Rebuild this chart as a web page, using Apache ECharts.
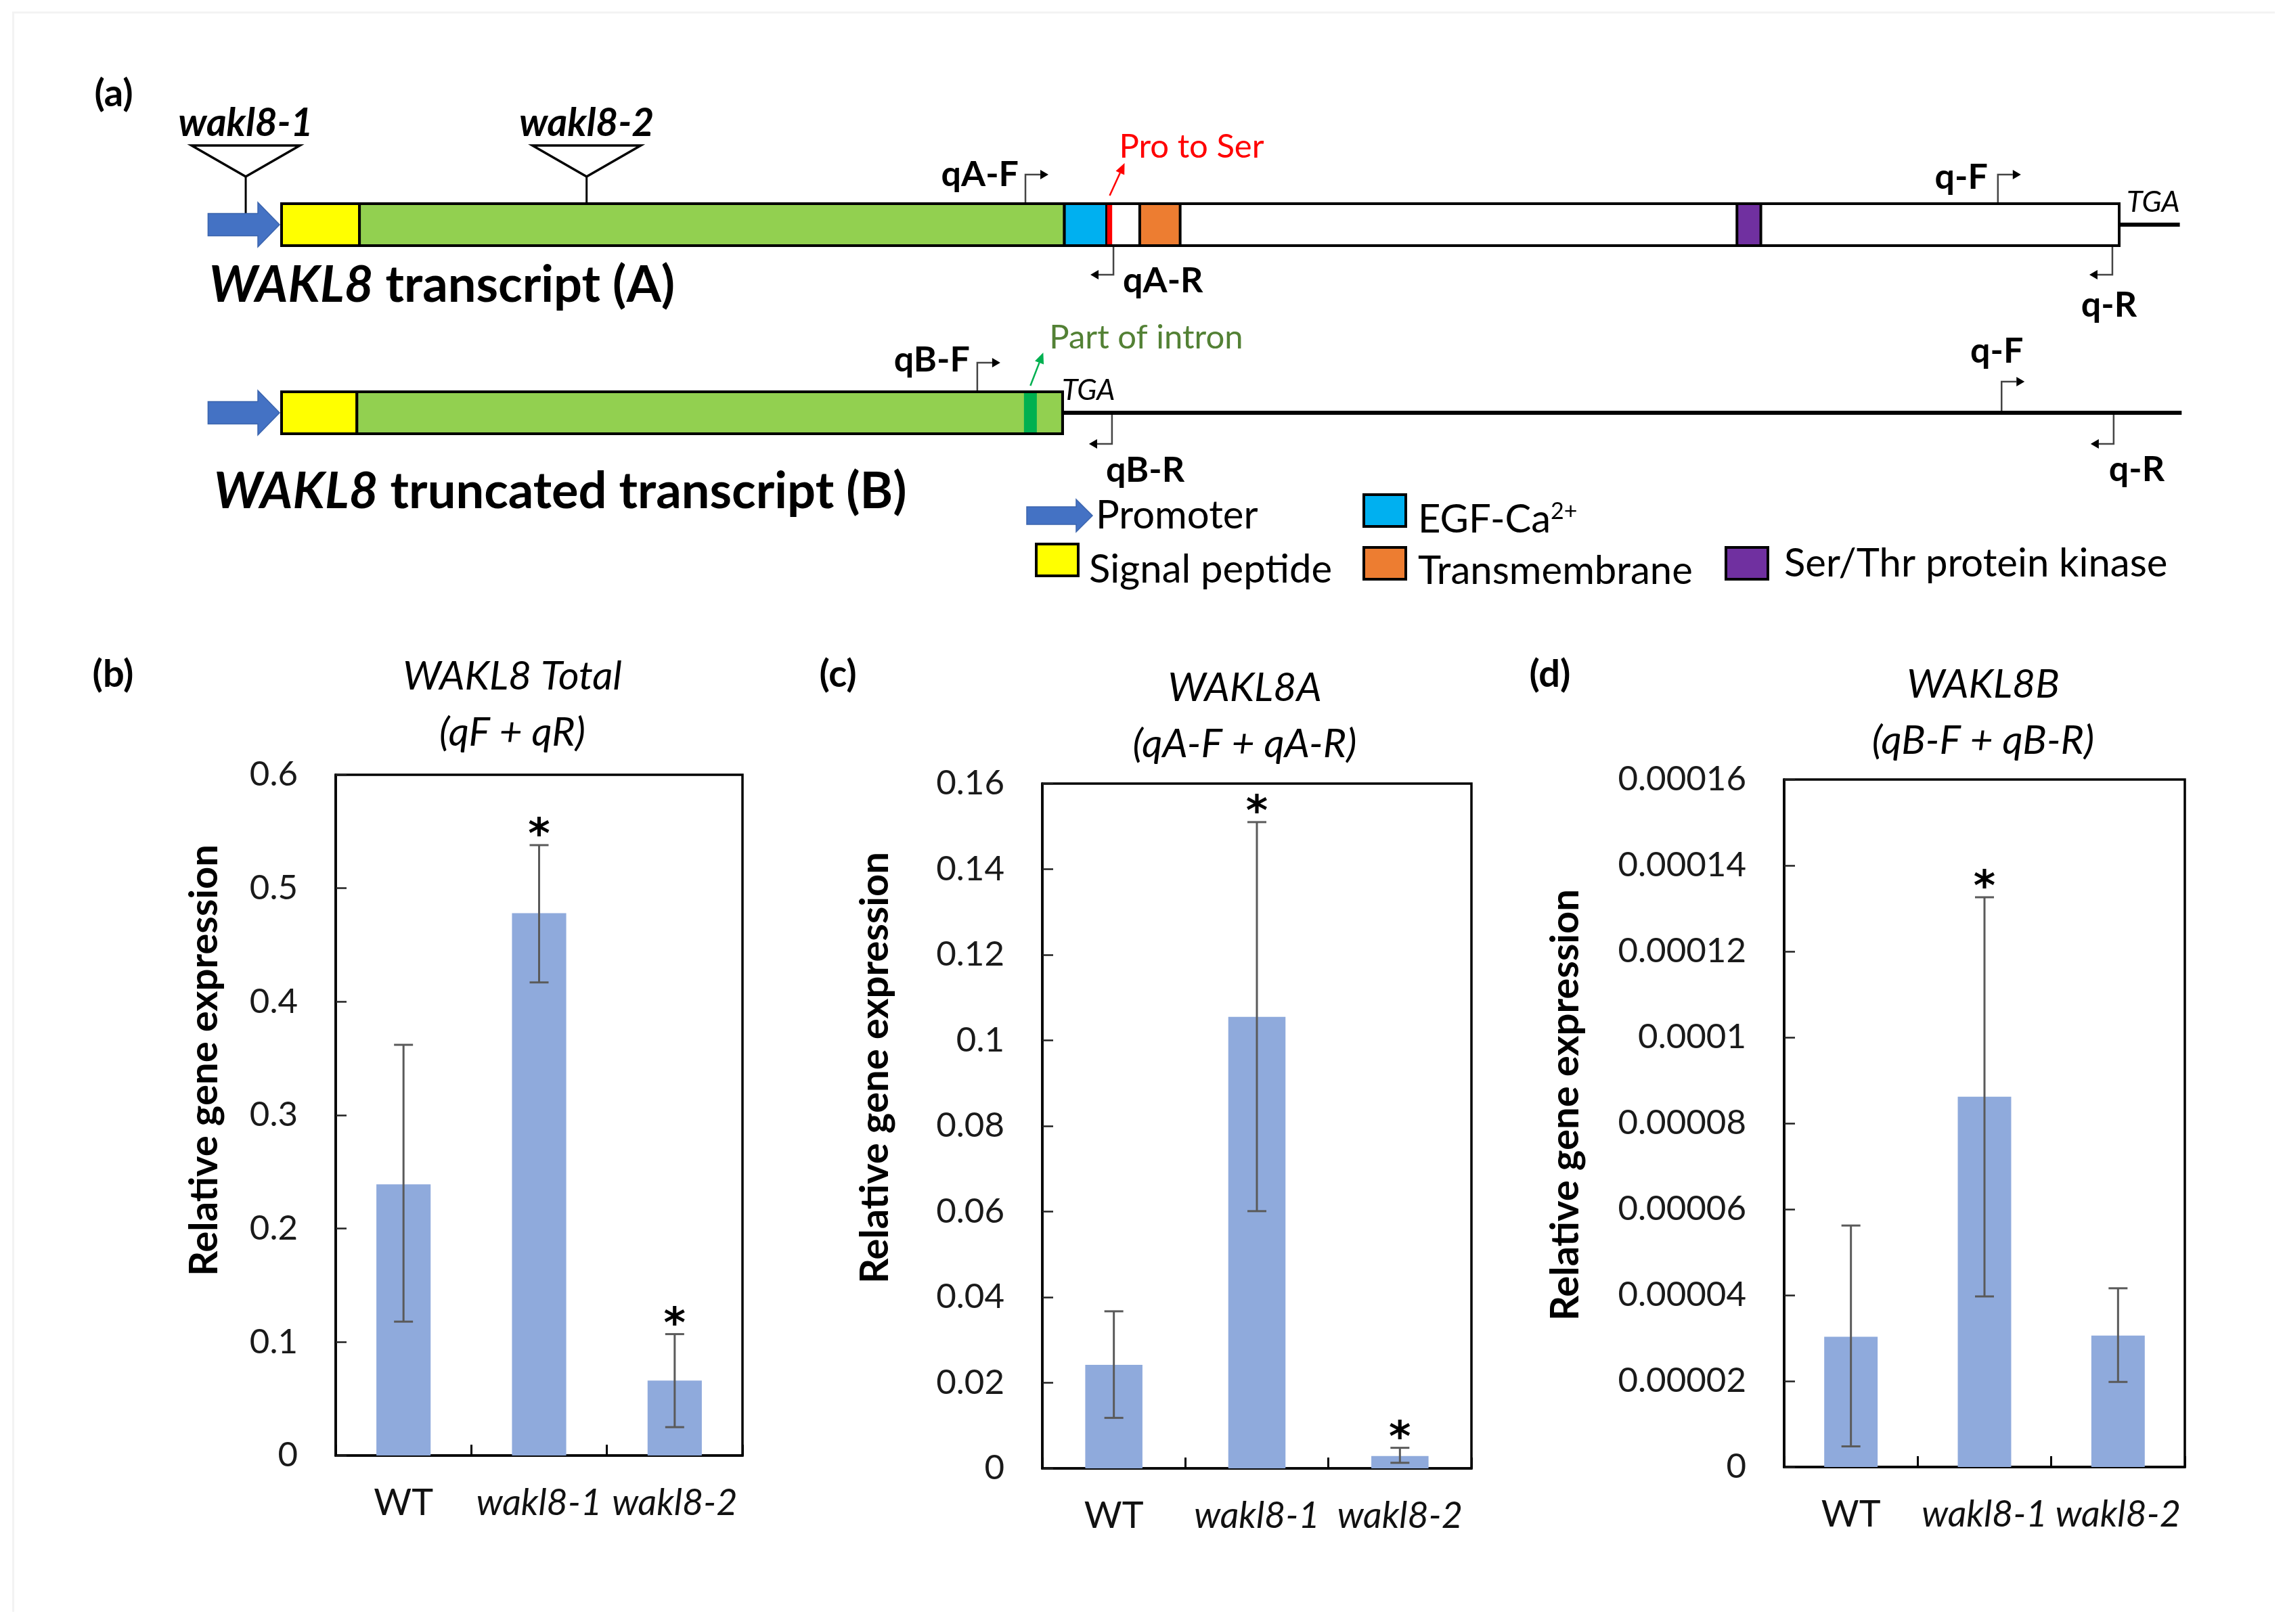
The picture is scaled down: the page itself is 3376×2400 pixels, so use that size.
<!DOCTYPE html>
<html><head><meta charset="utf-8">
<script src="https://cdn.jsdelivr.net/npm/echarts@6/dist/echarts.min.js"></script>
<style>html,body{margin:0;padding:0;background:#fff}#main{width:3376px;height:2400px}</style>
</head><body><div id="main"></div>
<script>
// ================= DATA =================
// --- bar panels ---
const genotypes = ['WT', 'wakl8-1', 'wakl8-2'];

const totalMean    = [0.239, 0.478, 0.066];
const totalErrLow  = [0.118, 0.417, 0.025];
const totalErrHigh = [0.362, 0.538, 0.107];
const totalSig     = [0, 1, 1];
const totalAxis    = {max: 0.6, interval: 0.1};

const aMean    = [0.0242, 0.1055, 0.0029];
const aErrLow  = [0.0118, 0.0601, 0.0013];
const aErrHigh = [0.0367, 0.151, 0.0048];
const aSig     = [0, 1, 1];
const aAxis    = {max: 0.16, interval: 0.02};

const bMean    = [0.0000303, 0.0000862, 0.0000306];
const bErrLow  = [0.0000048, 0.0000397, 0.0000198];
const bErrHigh = [0.0000562, 0.0001326, 0.0000416];
const bSig     = [0, 1, 0];
const bAxis    = {max: 0.00016, interval: 0.00002};

const panelTitles = [['WAKL8 Total', '(qF + qR)'], ['WAKL8A', '(qA-F + qA-R)'], ['WAKL8B', '(qB-F + qB-R)']];
const panelLetters = ['(a)', '(b)', '(c)', '(d)'];
const yAxisName = 'Relative gene expression';

// --- gene diagram (positions in relative units along the transcript) ---
const transcriptNames = ['WAKL8 transcript (A)', 'WAKL8 truncated transcript (B)'];
const transcriptRow   = [0, 1];
const boxEnd          = [100, 42.5];
const tailEnd         = [103.3, 103.4];
const promoterStart   = [-4.0, -4.0];

const segRow   = [0, 0, 0, 0, 0, 1, 1];
const segStart = [0, 4.24, 42.6, 46.7, 79.2, 0, 4.1];
const segEnd   = [4.24, 42.6, 44.9, 48.9, 80.5, 4.1, 42.5];
const segKind  = ['signal', 'wak', 'egf', 'tm', 'kinase', 'signal', 'wak'];

const noteRow   = [0, 1];
const noteStart = [44.93, 40.4];
const noteEnd   = [45.2, 41.1];
const noteText  = ['Pro to Ser', 'Part of intron'];

const insName = ['wakl8-1', 'wakl8-2'];
const insPos  = [-1.95, 16.6];
const insRow  = [0, 0];

const primerName = ['qA-F', 'qA-R', 'q-F', 'q-R', 'qB-F', 'qB-R', 'q-F', 'q-R'];
const primerRow  = [0, 0, 0, 0, 1, 1, 1, 1];
const primerPos  = [40.48, 45.27, 93.4, 99.63, 37.86, 45.19, 93.6, 99.7];
const primerDir  = [0, 1, 0, 1, 0, 1, 0, 1]; // 0 = forward, 1 = reverse

const stopRow = [0, 1];
const stopPos = [100, 42.5];
const stopText = 'TGA';

const legendNames = ['Promoter', 'EGF-Ca2+', 'Signal peptide', 'Transmembrane', 'Ser/Thr protein kinase'];
const legendKinds = ['promoter', 'egf', 'signal', 'tm', 'kinase'];

// ================= STYLE / LAYOUT =================
const FONT = 'Lato';
const colors = {signal: '#FFFF00', wak: '#92D050', egf: '#00B0F0', tm: '#ED7D31', kinase: '#7030A0', promoter: '#4472C4'};
const noteColors = [{mark: '#FF0000', arrow: '#FF0000', text: '#FF0000'}, {mark: '#00B050', arrow: '#00B050', text: '#538135'}];
const BOX_H = 62, TAIL_W = 6, BORDER = 4;
const ARROW_RISE = 43, ARROW_RUN = 34, HEAD_L = 12, HEAD_W = 14;
const primerLabel = [
  {align: 'right', dx: -10, dy: 0}, {align: 'left', dx: 14, dy: 9},
  {align: 'right', dx: -15, dy: 4}, {align: 'center', dx: -5, dy: 45},
  {align: 'right', dx: -11, dy: -4}, {align: 'left', dx: -9, dy: 39},
  {align: 'center', dx: -7, dy: -45}, {align: 'left', dx: -7, dy: 38}
];
const noteLayout = [{ax: 22, ay: -48, tx: -8, ty: -24, lift: 12}, {ax: 19, ay: -49, tx: 9, ty: -22, lift: 9}];
const stopLayout = [{dx: 11, dy: -2}, {dx: -1, dy: -2}];
const legendLayout = [
  {ix: 1517, iy: 762, tx: 1619, ty: 762},
  {ix: 2015, iy: 755, tx: 2095, ty: 768},
  {ix: 1531, iy: 828, tx: 1609, ty: 842},
  {ix: 2015, iy: 833, tx: 2095, ty: 844},
  {ix: 2550, iy: 833, tx: 2636, ty: 833}
];
const barGrids = [
  {left: 496, right: 3376 - 1097, top: 1145, bottom: 2400 - 2151},
  {left: 1540, right: 3376 - 2174, top: 1158, bottom: 2400 - 2170},
  {left: 2636, right: 3376 - 3228, top: 1152, bottom: 2400 - 2168}
];
const titlePos = [{x: 757, y1: 1000, y2: 1083}, {x: 1839, y1: 1017, y2: 1100}, {x: 2930, y1: 1012, y2: 1095}];
const yNamePos = [{x: 302, y: 1567}, {x: 1293, y: 1578}, {x: 2313, y: 1633}];
const letterPos = [{x: 168, y: 139}, {x: 167, y: 997}, {x: 1238, y: 997}, {x: 2290, y: 997}];
const transcriptNamePos = [{x: 309, y: 422}, {x: 316, y: 727}];

function txt(x, y, text, opt) {
  const st = Object.assign({text: text, fill: '#000', fontFamily: FONT, fontSize: 50, fontWeight: 'normal',
    align: 'left', verticalAlign: 'middle'}, opt || {});
  st.textAlign = st.align; st.textVerticalAlign = st.verticalAlign;
  return {type: 'text', x: x, y: y, style: st, z: 10};
}

// ================= SERIES: GENE DIAGRAM =================
const geneSeries = [];
geneSeries.push({
  type: 'custom', xAxisIndex: 0, yAxisIndex: 0, z: 1, silent: true,
  data: transcriptRow.map((r, i) => [boxEnd[i], r, tailEnd[i]]),
  renderItem: function (p, api) {
    const a = api.coord([api.value(0), api.value(1)]), b = api.coord([api.value(2), api.value(1)]);
    return {type: 'rect', shape: {x: a[0], y: a[1] - TAIL_W / 2, width: b[0] - a[0], height: TAIL_W}, style: {fill: '#000'}};
  }
});
geneSeries.push({
  type: 'custom', xAxisIndex: 0, yAxisIndex: 0, z: 1, silent: true,
  data: insPos.map((x, i) => [x, insRow[i]]),
  renderItem: function (p, api) {
    const c = api.coord([api.value(0), api.value(1)]);
    const top = c[1] - BOX_H / 2;
    const apex = top - 40, triTop = apex - 46;
    return {type: 'group', children: [
      {type: 'line', shape: {x1: c[0], y1: apex, x2: c[0], y2: top + 14}, style: {stroke: '#000', lineWidth: 3}},
      {type: 'polygon', shape: {points: [[c[0] - 80, triTop], [c[0] + 80, triTop], [c[0], apex]]}, style: {fill: '#fff', stroke: '#000', lineWidth: 3.5}},
      {type: 'text', x: c[0], y: triTop - 32, style: {text: insName[p.dataIndex], fontFamily: FONT, fontSize: 57, fontWeight: 'bold', fontStyle: 'italic', fill: '#000', align: 'center', verticalAlign: 'middle', textAlign: 'center', textVerticalAlign: 'middle'}}
    ]};
  }
});
geneSeries.push({
  type: 'custom', xAxisIndex: 0, yAxisIndex: 0, z: 1, silent: true,
  data: primerPos.map((x, i) => [x, primerRow[i], primerDir[i]]),
  renderItem: function (p, api) {
    const pos = api.value(0), row = api.value(1), dir = api.value(2), i = p.dataIndex;
    const c = api.coord([pos, row]);
    const inBox = pos >= 0 && pos <= boxEnd[row];
    const half = inBox ? BOX_H / 2 : TAIL_W / 2;
    const s = dir === 0 ? -1 : 1, h = dir === 0 ? 1 : -1;
    const y0 = c[1] + s * half, y1 = y0 + s * ARROW_RISE;
    const tip = c[0] + h * ARROW_RUN;
    const L = primerLabel[i];
    return {type: 'group', children: [
      {type: 'polyline', shape: {points: [[c[0], y0], [c[0], y1], [tip - h * HEAD_L, y1]]}, style: {stroke: '#444', lineWidth: 2.5, fill: null}},
      {type: 'polygon', shape: {points: [[tip, y1], [tip - h * HEAD_L, y1 - HEAD_W / 2], [tip - h * HEAD_L, y1 + HEAD_W / 2]]}, style: {fill: '#000'}},
      {type: 'text', x: c[0] + L.dx, y: y1 + L.dy, style: {text: primerName[i], fontFamily: FONT, fontSize: 52, fontWeight: 'bold', fill: '#000', align: L.align, verticalAlign: 'middle', textAlign: L.align, textVerticalAlign: 'middle'}}
    ]};
  }
});
geneSeries.push({
  type: 'custom', xAxisIndex: 0, yAxisIndex: 0, z: 2, silent: true,
  data: transcriptRow.map((r, i) => [0, r, boxEnd[i]]),
  renderItem: function (p, api) {
    const a = api.coord([api.value(0), api.value(1)]), b = api.coord([api.value(2), api.value(1)]);
    return {type: 'rect', shape: {x: a[0], y: a[1] - BOX_H / 2, width: b[0] - a[0], height: BOX_H}, style: {fill: '#fff', stroke: '#000', lineWidth: BORDER}};
  }
});
geneSeries.push({
  type: 'custom', xAxisIndex: 0, yAxisIndex: 0, z: 3, silent: true,
  data: segStart.map((x, i) => [x, segRow[i], segEnd[i]]),
  renderItem: function (p, api) {
    const a = api.coord([api.value(0), api.value(1)]), b = api.coord([api.value(2), api.value(1)]);
    return {type: 'rect', shape: {x: a[0], y: a[1] - BOX_H / 2, width: b[0] - a[0], height: BOX_H}, style: {fill: colors[segKind[p.dataIndex]], stroke: '#000', lineWidth: BORDER}};
  }
});
geneSeries.push({
  type: 'custom', xAxisIndex: 0, yAxisIndex: 0, z: 4, silent: true,
  data: noteStart.map((x, i) => [x, noteRow[i], noteEnd[i]]),
  renderItem: function (p, api) {
    const i = p.dataIndex, C = noteColors[i], L = noteLayout[i];
    const a = api.coord([api.value(0), api.value(1)]), b = api.coord([api.value(2), api.value(1)]);
    const top = a[1] - BOX_H / 2;
    const cx = (a[0] + b[0]) / 2, sy = top - L.lift;
    const tx = cx + L.ax, ty = sy + L.ay;
    const ang = Math.atan2(ty - sy, tx - cx);
    const hl = 16, hw = 7;
    const bx = tx - hl * Math.cos(ang), by = ty - hl * Math.sin(ang);
    const nx = -Math.sin(ang), ny = Math.cos(ang);
    return {type: 'group', children: [
      {type: 'rect', shape: {x: a[0], y: top + BORDER / 2, width: b[0] - a[0], height: BOX_H - BORDER}, style: {fill: C.mark}},
      {type: 'line', shape: {x1: cx, y1: sy, x2: bx, y2: by}, style: {stroke: C.arrow, lineWidth: 2.5}},
      {type: 'polygon', shape: {points: [[tx, ty], [bx + nx * hw, by + ny * hw], [bx - nx * hw, by - ny * hw]]}, style: {fill: C.arrow}},
      {type: 'text', x: tx + L.tx, y: ty + L.ty, style: {text: noteText[i], fontFamily: FONT, fontSize: 49, fill: C.text, align: 'left', verticalAlign: 'middle', textAlign: 'left', textVerticalAlign: 'middle'}}
    ]};
  }
});
function arrowPts(x0, x1, cy, shaftH, headH, headL) {
  return [[x0, cy - shaftH / 2], [x1 - headL, cy - shaftH / 2], [x1 - headL, cy - headH / 2], [x1, cy],
          [x1 - headL, cy + headH / 2], [x1 - headL, cy + shaftH / 2], [x0, cy + shaftH / 2]];
}
geneSeries.push({
  type: 'custom', xAxisIndex: 0, yAxisIndex: 0, z: 4, silent: true,
  data: transcriptRow.map((r, i) => [promoterStart[i], r, 0]),
  renderItem: function (p, api) {
    const a = api.coord([api.value(0), api.value(1)]), b = api.coord([api.value(2), api.value(1)]);
    return {type: 'polygon', shape: {points: arrowPts(a[0], b[0] - 3, a[1], 33, 66, 32)}, style: {fill: colors.promoter, stroke: '#3B64AD', lineWidth: 1.5}};
  }
});
geneSeries.push({
  type: 'custom', xAxisIndex: 0, yAxisIndex: 0, z: 4, silent: true,
  data: stopPos.map((x, i) => [x, stopRow[i]]),
  renderItem: function (p, api) {
    const c = api.coord([api.value(0), api.value(1)]), L = stopLayout[p.dataIndex];
    return {type: 'text', x: c[0] + L.dx, y: c[1] - BOX_H / 2 + L.dy, style: {text: stopText, fontFamily: FONT, fontSize: 43, fontStyle: 'italic', fill: '#000', align: 'left', verticalAlign: 'middle', textAlign: 'left', textVerticalAlign: 'middle'}};
  }
});

// ================= SERIES: BAR PANELS =================
const panels = [
  {mean: totalMean, lo: totalErrLow, hi: totalErrHigh, sig: totalSig, axis: totalAxis},
  {mean: aMean, lo: aErrLow, hi: aErrHigh, sig: aSig, axis: aAxis},
  {mean: bMean, lo: bErrLow, hi: bErrHigh, sig: bSig, axis: bAxis}
];
const grids = [{left: 280.25, right: 109.25, top: 332, height: 278, show: false}];
const xAxes = [{type: 'value', gridIndex: 0, min: -5, max: 105, show: false}];
const yAxes = [{type: 'value', gridIndex: 0, min: 0, max: 1, inverse: true, show: false}];
const barSeries = [];
panels.forEach(function (P, k) {
  const gi = k + 1;
  grids.push(Object.assign({show: true, borderColor: '#000', borderWidth: 3.5, backgroundColor: 'transparent'}, barGrids[k]));
  xAxes.push({
    type: 'category', gridIndex: gi, data: genotypes,
    axisLine: {lineStyle: {color: '#000', width: 3.5}},
    axisTick: {show: true, inside: true, length: 16, lineStyle: {color: '#000', width: 3}},
    axisLabel: {interval: 0, hideOverlap: false, margin: 44, fontFamily: FONT, fontSize: 54, color: '#111',
      formatter: function (v) { return v === 'WT' ? '{n|' + v + '}' : '{i|' + v + '}'; },
      rich: {n: {fontFamily: FONT, fontSize: 54, color: '#111'}, i: {fontFamily: FONT, fontSize: 54, fontStyle: 'italic', color: '#111'}}}
  });
  yAxes.push({
    type: 'value', gridIndex: gi, min: 0, max: P.axis.max, interval: P.axis.interval,
    axisLine: {show: true, lineStyle: {color: '#000', width: 3.5}},
    axisTick: {show: true, inside: true, length: 16, lineStyle: {color: '#222', width: 2.5}},
    splitLine: {show: false},
    axisLabel: {margin: 56, fontFamily: FONT, fontSize: 51, color: '#1a1a1a',
      formatter: function (v) { return String(+(+v).toFixed(7)); }}
  });
  barSeries.push({
    type: 'bar', xAxisIndex: gi, yAxisIndex: gi, data: P.mean, barWidth: '40%', silent: true,
    itemStyle: {color: '#8FAADC'}, z: 2
  });
  barSeries.push({
    type: 'custom', xAxisIndex: gi, yAxisIndex: gi, z: 5, silent: true,
    data: P.mean.map((m, i) => [i, P.lo[i], P.hi[i], P.sig[i]]),
    renderItem: function (p, api) {
      const lo = api.coord([api.value(0), api.value(1)]), hi = api.coord([api.value(0), api.value(2)]);
      const x = lo[0], cap = 14;
      const ch = [
        {type: 'line', shape: {x1: x, y1: lo[1], x2: x, y2: hi[1]}, style: {stroke: '#5a5a5a', lineWidth: 3}},
        {type: 'line', shape: {x1: x - cap, y1: lo[1], x2: x + cap, y2: lo[1]}, style: {stroke: '#5a5a5a', lineWidth: 3}},
        {type: 'line', shape: {x1: x - cap, y1: hi[1], x2: x + cap, y2: hi[1]}, style: {stroke: '#5a5a5a', lineWidth: 3}}
      ];
      if (api.value(3)) {
        ch.push({type: 'text', x: x, y: hi[1] - 12, style: {text: '*', fontFamily: 'DejaVu Sans', fontSize: 62, fontWeight: 'bold', fill: '#000', align: 'center', verticalAlign: 'middle', textAlign: 'center', textVerticalAlign: 'middle'}});
      }
      return {type: 'group', children: ch};
    }
  });
});

// ================= GRAPHIC TEXT =================
const graphics = [];
graphics.push({type: 'line', shape: {x1: 18, y1: 18.5, x2: 3361, y2: 18.5}, style: {stroke: '#f3f3f3', lineWidth: 3}, z: 0});
graphics.push({type: 'line', shape: {x1: 19.5, y1: 18, x2: 19.5, y2: 2382}, style: {stroke: '#f3f3f3', lineWidth: 3}, z: 0});
panelLetters.forEach(function (t, i) {
  graphics.push(txt(letterPos[i].x, letterPos[i].y, t, {fontSize: 56, fontWeight: 'bold', align: 'center'}));
});
transcriptNames.forEach(function (t, i) {
  graphics.push(txt(transcriptNamePos[i].x, transcriptNamePos[i].y, t.replace('WAKL8', '{i|WAKL8}'),
    {fontSize: 74, fontWeight: 'bold', rich: {i: {fontFamily: FONT, fontSize: 74, fontWeight: 'bold', fontStyle: 'italic'}}}));
});
panelTitles.forEach(function (t, i) {
  graphics.push(txt(titlePos[i].x, titlePos[i].y1, t[0], {fontSize: 59, fontStyle: 'italic', align: 'center'}));
  graphics.push(txt(titlePos[i].x, titlePos[i].y2, t[1], {fontSize: 59, fontStyle: 'italic', align: 'center'}));
  const n = txt(yNamePos[i].x, yNamePos[i].y, yAxisName, {fontSize: 58, fontWeight: 'bold', align: 'center'});
  n.rotation = Math.PI / 2;
  graphics.push(n);
});
legendNames.forEach(function (name, i) {
  const L = legendLayout[i], kind = legendKinds[i];
  if (kind === 'promoter') {
    graphics.push({type: 'polygon', shape: {points: arrowPts(L.ix, L.ix + 97, L.iy, 26, 48, 24)}, style: {fill: colors.promoter, stroke: '#3B64AD', lineWidth: 1.5}, z: 10});
  } else {
    graphics.push({type: 'rect', shape: {x: L.ix, y: L.iy - 24, width: 62, height: 47}, style: {fill: colors[kind], stroke: '#000', lineWidth: BORDER}, z: 10});
  }
  let label = name, rich;
  if (name.indexOf('2+') > 0) {
    label = name.replace('2+', '{s|2+}');
    rich = {s: {fontFamily: FONT, fontSize: 34, verticalAlign: 'top', padding: [0, 0, 24, 0]}};
  }
  graphics.push(txt(L.tx, L.ty, label, {fontSize: 58, rich: rich}));
});

const chart = echarts.init(document.getElementById('main'), null, {renderer: 'canvas'});
chart.setOption({
  backgroundColor: '#fff',
  animation: false,
  grid: grids, xAxis: xAxes, yAxis: yAxes,
  series: geneSeries.concat(barSeries),
  graphic: {elements: graphics}
});
</script></body></html>
